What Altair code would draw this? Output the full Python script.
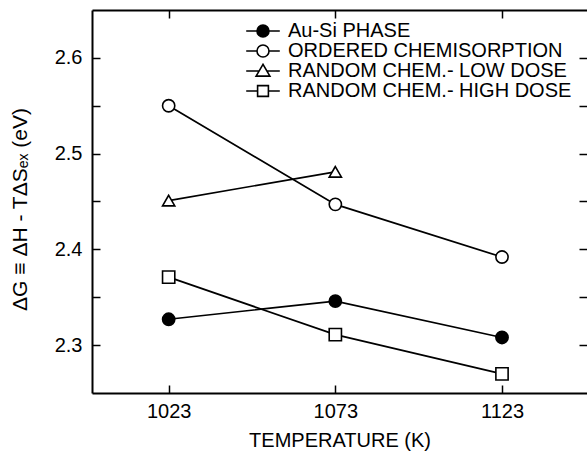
import altair as alt
import pandas as pd

# ---- data ----
series_names = ["Au-Si PHASE", "ORDERED CHEMISORPTION",
                "RANDOM CHEM.- LOW DOSE", "RANDOM CHEM.- HIGH DOSE"]

temps_au_si = [1023, 1073, 1123]
dg_au_si = [2.327, 2.346, 2.308]

temps_ordered = [1023, 1073, 1123]
dg_ordered = [2.550, 2.447, 2.392]

temps_low = [1023, 1073]
dg_low = [2.451, 2.481]

temps_high = [1023, 1073, 1123]
dg_high = [2.371, 2.311, 2.270]

x_ticks = [1023, 1073, 1123]
y_ticks = [2.30, 2.35, 2.40, 2.45, 2.50, 2.55, 2.60]

rows = []
for name, ts, vs in zip(series_names,
                        [temps_au_si, temps_ordered, temps_low, temps_high],
                        [dg_au_si, dg_ordered, dg_low, dg_high]):
    for t, v in zip(ts, vs):
        rows.append({"series": name, "T": t, "dG": v})
df = pd.DataFrame(rows)

FONT = "Liberation Sans"

x_scale = alt.Scale(domain=[1000, 1148.5], nice=False, zero=False)
y_scale = alt.Scale(domain=[2.25, 2.65], nice=False, zero=False)

inward = alt.ExprRef(expr="-8")

x_bottom = alt.Axis(orient="bottom", values=x_ticks, format="d", tickSize=inward,
                    tickWidth=1.5, tickColor="black", domainColor="black", domainWidth=2,
                    labelFontSize=20, labelFont=FONT, labelColor="black", labelPadding=16,
                    title="TEMPERATURE (K)", titleFont=FONT, titleFontSize=20,
                    titleFontWeight="normal", titleColor="black", titlePadding=9,
                    grid=False)
y_left = alt.Axis(orient="left", values=y_ticks, tickSize=inward,
                  tickWidth=1.5, tickColor="black", domainColor="black", domainWidth=2,
                  labelExpr="(round(datum.value*100) % 10 == 0) ? format(datum.value, '.1f') : ''",
                  labelFontSize=20, labelFont=FONT, labelColor="black", labelPadding=18,
                  title="ΔG ≡ ΔH - TΔSₑₓ (eV)", titleFont=FONT, titleFontSize=21,
                  titleFontWeight="normal", titleColor="black", titlePadding=24,
                  titleY=199, grid=False)
x_top = alt.Axis(orient="top", values=x_ticks, tickSize=inward, tickWidth=1.5,
                 tickColor="black", domainColor="black", domainWidth=2,
                 labels=False, title=None, grid=False)
y_right = alt.Axis(orient="right", values=y_ticks, tickSize=inward, tickWidth=1.5,
                   tickColor="black", domain=False, labels=False, title=None, grid=False)

lines = alt.Chart(df).mark_line(color="black", strokeWidth=1.7).encode(
    x=alt.X("T:Q", scale=x_scale, axis=x_bottom),
    y=alt.Y("dG:Q", scale=y_scale, axis=y_left),
    detail="series:N",
)

points = alt.Chart(df).mark_point(stroke="black", strokeWidth=1.6, opacity=1).encode(
    x=alt.X("T:Q", scale=x_scale, axis=x_top),
    y=alt.Y("dG:Q", scale=y_scale, axis=y_right),
    shape=alt.Shape("series:N", scale=alt.Scale(
        domain=series_names, range=["circle", "circle", "triangle-up", "square"]), legend=None),
    fill=alt.Fill("series:N", scale=alt.Scale(
        domain=series_names, range=["black", "white", "white", "white"]), legend=None),
    size=alt.Size("series:N", scale=alt.Scale(
        domain=series_names, range=[150, 150, 200, 130]), legend=None),
)

legend_paths = [
    "M-2.8,0H-1M1,0H2.8M-1,0A1,1 0 1,1 1,0A1,1 0 1,1 -1,0Z",
    "M-2.8,0H-1M1,0H2.8M-1,0A1,1 0 1,1 1,0A1,1 0 1,1 -1,0Z",
    "M-2.8,0H-0.65M0.65,0H2.8M0,-1.1L-1.15,0.85L1.15,0.85Z",
    "M-2.8,0H-0.9M0.9,0H2.8M-0.9,-0.9H0.9V0.9H-0.9Z",
]

leg = dict(orient="none", legendX=161, legendY=11, title=None, symbolSize=144,
           symbolStrokeWidth=1.6, symbolStrokeColor="black", symbolOpacity=1,
           labelFontSize=20, labelFont=FONT, labelColor="black", labelOffset=15,
           rowPadding=0, padding=0, labelLimit=400)

legend_layer = alt.Chart(df).mark_point(strokeWidth=1.6, opacity=1).encode(
    shape=alt.Shape("series:N", scale=alt.Scale(domain=series_names, range=legend_paths),
                    legend=alt.Legend(**leg)),
    fill=alt.Fill("series:N", scale=alt.Scale(
        domain=series_names, range=["black", "white", "white", "white"]),
        legend=alt.Legend(**leg)),
    stroke=alt.Stroke("series:N", scale=alt.Scale(
        domain=series_names, range=["black", "black", "black", "black"]),
        legend=alt.Legend(**leg)),
).transform_filter("false")

chart = alt.layer(lines, points, legend_layer).resolve_axis(
    x="independent", y="independent"
).resolve_scale(
    shape="independent", fill="independent", size="independent", stroke="independent"
).properties(
    width=495, height=383,
    autosize=alt.AutoSizeParams(type="none"),
    padding={"left": 92, "top": 10, "right": 0, "bottom": 65},
    background="white",
).configure_view(stroke=None)

chart.save("out.html", embed_options={"renderer": "svg", "actions": False})
